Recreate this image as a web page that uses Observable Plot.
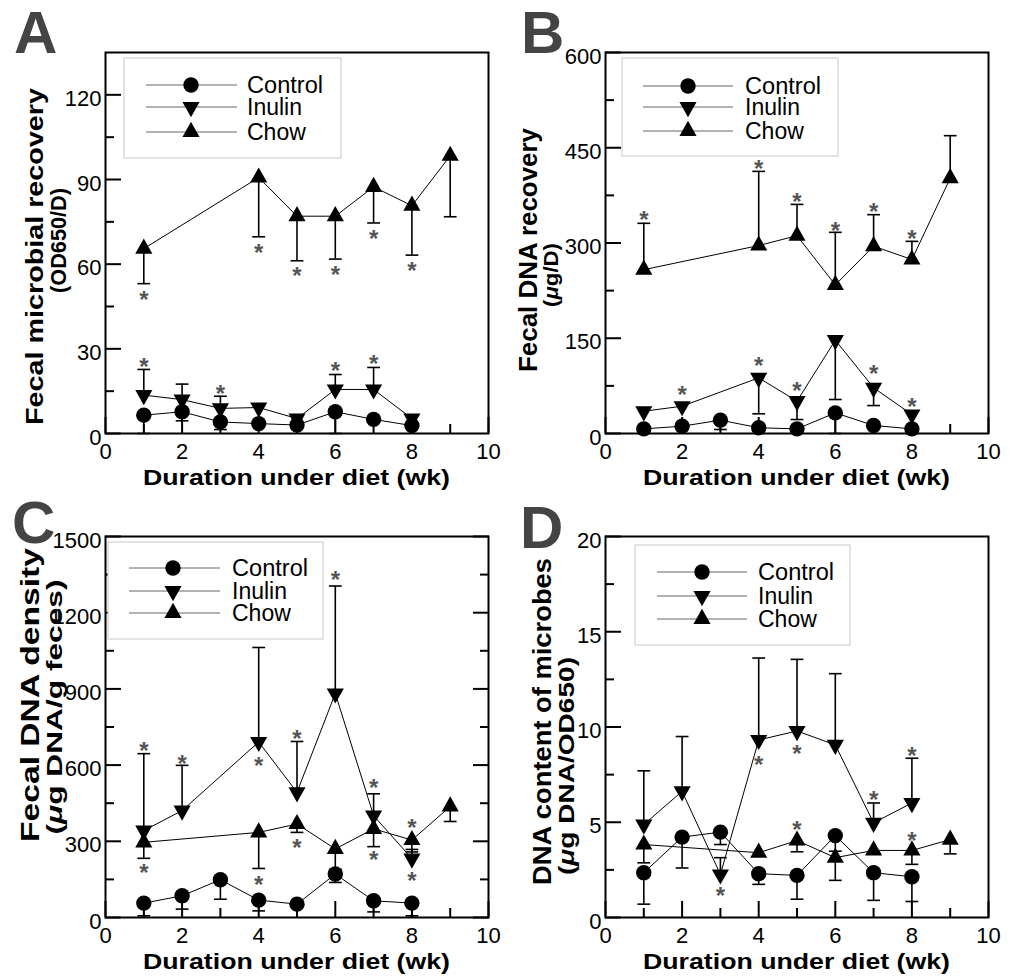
<!DOCTYPE html>
<html><head><meta charset="utf-8">
<script src="https://cdn.jsdelivr.net/npm/d3@7"></script>
<script src="https://cdn.jsdelivr.net/npm/@observablehq/plot@0.6"></script>
<style>
html,body{margin:0;padding:0;background:#fff;}
#root{position:relative;width:1014px;height:980px;overflow:hidden;background:#fff;}
.panel{position:absolute;}
</style></head><body><div id="root"></div>
<script>
// ---------- DATA ----------
const seriesNames = ["Control", "Inulin", "Chow"];
const weeksAll = [1, 2, 3, 4, 5, 6, 7, 8];
const weeksInulinBC = [1, 2, 4, 5, 6, 7, 8];
const weeksChow = [1, 4, 5, 6, 7, 8, 9];
const xMajorTicks = [0, 2, 4, 6, 8, 10];
const xMinorTicks = [1, 3, 5, 7, 9];

// Panel A: Fecal microbial recovery (OD650/D)
const aControl     = [6.5, 7.7, 4.1, 3.5, 3.0, 7.7, 5.0, 2.8];
const aControlErr  = [0, 4.5, 1.4, null, null, 0, null, null];
const aControlStar = [null, null, null, null, null, null, null, null];
const aInulin      = [13.6, 12.0, 8.9, 9.2, 5.3, 15.6, 15.6, 5.3];
const aInulinErr   = [22.7, 17.5, 13.2, null, null, 20.9, 23.4, null];
const aInulinStar  = [25.7, null, 15.9, null, null, 24.1, 26.6, null];
const aChow        = [65.5, 90.7, 77, 77, 87.4, 80.7, 98.4];
const aChowErr     = [53.1, 69.7, 61.2, 61.8, 74.6, 63.2, 76.8];
const aChowStar    = [49.4, 65.9, 57.9, 58.1, 71.1, 59.6, null];
const aYMajor = [0, 30, 60, 90, 120];
const aYMinor = [15, 45, 75, 105];

// Panel B: Fecal DNA recovery (ug/D)
const bControl     = [7.3, 11.5, 21, 9, 7.3, 32.5, 12.6, 7.3];
const bControlErr  = [null, null, 6.3, null, null, 0, null, null];
const bControlStar = [null, null, null, null, null, null, null, null];
const bInulin      = [35, 43, 87.6, 51, 147, 72, 30];
const bInulinErr   = [null, null, 31, 22, 53.5, 44, null];
const bInulinStar  = [null, 69, 116, 75.5, null, 102, 51];
const bChow        = [258, 296, 311.5, 234, 295, 274, 402];
const bChowErr     = [331, 412.8, 360.8, 316.8, 344.6, 302.6, 469];
const bChowStar    = [344.6, 424.8, 373, 328, 357.7, 315.7, null];
const bYMajor = [0, 150, 300, 450, 600];
const bYMinor = [75, 225, 375, 525];

// Panel C: Fecal DNA density (ug DNA/g feces)
const cControl     = [56.6, 85.5, 148.7, 68.4, 52.6, 171, 65.8, 56.6];
const cControlErr  = [6.6, 33, 72, 26, null, 138, 22, 6.6];
const cControlStar = [null, null, null, null, null, null, null, null];
const cInulin      = [342, 421, 691, 493, 882, 401, 232];
const cInulinErr   = [645, 599, 1063, 693, 1305, 487, 268];
const cInulinStar  = [678, 628, 618, 726, 1353, 533, 168];
const cChow        = [296, 335, 368, 270, 349, 305, 437];
const cChowErr     = [233, 193, 335, 190, 279, 258, 378];
const cChowStar    = [197, 151, 296, null, 247, 375, null];
const cYMajor = [0, 300, 600, 900, 1200, 1500];
const cYMinor = [150, 450, 750, 1050, 1350];

// Panel D: DNA content of microbes (ug DNA/OD650)
const dControl     = [2.35, 4.22, 4.48, 2.3, 2.21, 4.3, 2.35, 2.14];
const dControlErr  = [0.7, 2.6, 3.83, 1.74, 0.96, 3.48, 0.9, 0.84];
const dControlStar = [null, null, null, null, null, null, null, null];
const dInulin      = [4.88, 6.62, 2.26, 9.32, 9.79, 9.06, 4.97, 6.01];
const dInulinErr   = [7.7, 9.5, 3.14, 13.62, 13.55, 12.8, 6.01, 8.36];
const dInulinStar  = [null, null, 1.43, 8.28, 8.89, null, 6.48, 8.8];
const dChow        = [3.83, 3.4, 4.04, 3.14, 3.52, 3.52, 4.09];
const dChowErr     = [2.87, null, 3.45, 1.95, null, 2.79, 3.34];
const dChowStar    = [null, null, 4.91, null, null, 4.32, null];
const dYMajor = [0, 5, 10, 15, 20];
const dYMinor = [2.5, 7.5, 12.5, 17.5];

// ---------- SYMBOLS ----------
const circleSym = {draw(ctx, size) { const r = Math.sqrt(size / Math.PI); ctx.moveTo(r, 0); ctx.arc(0, 0, r, 0, 2 * Math.PI); ctx.closePath(); }};
const triUpSym = {draw(ctx, size) { const r = Math.sqrt(size / Math.PI), w = r * 1.07, h = r * 1.9; ctx.moveTo(0, -h * 2 / 3); ctx.lineTo(w, h / 3); ctx.lineTo(-w, h / 3); ctx.closePath(); }};
const triDownSym = {draw(ctx, size) { const r = Math.sqrt(size / Math.PI), w = r * 1.07, h = r * 1.9; ctx.moveTo(0, h * 2 / 3); ctx.lineTo(w, -h / 3); ctx.lineTo(-w, -h / 3); ctx.closePath(); }};
const capSym = {draw(ctx, size) { const r = Math.sqrt(size / Math.PI); ctx.moveTo(-r * 0.8, 0); ctx.lineTo(r * 0.8, 0); }};
const symbols = [circleSym, triDownSym, triUpSym];
const symbolR = [7.7, 8, 8];

const FONT = "'Liberation Sans', Arial, Helvetica, sans-serif";

function rowsOf(name, xs, ys, errs, stars) {
  return xs.map((x, i) => ({series: name, x, y: ys[i], err: errs[i], star: stars[i]}));
}

const panels = [
  {left: 0, top: 0, height: 490, mt: 52, mb: 57, ymax: 135, yMajor: aYMajor, yMinor: aYMinor, right: false,
   data: [rowsOf("Control", weeksAll, aControl, aControlErr, aControlStar),
          rowsOf("Inulin", weeksAll, aInulin, aInulinErr, aInulinStar),
          rowsOf("Chow", weeksChow, aChow, aChowErr, aChowStar)],
   legend: {box: [19, 6, 217, 100], lx: [41, 132], mx: 86, tx: 142, rows: [33, 55, 80]},
   letter: {t: "A", x: 14, y: 53},
   ylab: [{parts: [["Fecal microbial recovery", false]], x: 43, y: 256.5, size: 24, length: 337},
          {parts: [["(OD650/D)", false]], x: 66, y: 240.5, size: 22, length: 105}],
   xlab: {x: 296.5, y: 485}},
  {left: 500, top: 0, height: 490, mt: 52, mb: 57, ymax: 600, yMajor: bYMajor, yMinor: bYMinor, right: false,
   data: [rowsOf("Control", weeksAll, bControl, bControlErr, bControlStar),
          rowsOf("Inulin", weeksInulinBC, bInulin, bInulinErr, bInulinStar),
          rowsOf("Chow", weeksChow, bChow, bChowErr, bChowStar)],
   legend: {box: [17, 6, 216, 98], lx: [38, 128], mx: 83, tx: 140, rows: [34, 55, 79]},
   letter: {t: "B", x: 521, y: 53},
   ylab: [{parts: [["Fecal DNA recovery", false]], x: 537, y: 250, size: 26, length: 244},
          {parts: [["(", false], ["\u03bc", true], ["g/D)", false]], x: 558, y: 275, size: 21, length: 64}],
   xlab: {x: 796.5, y: 485}},
  {left: 0, top: 485, height: 495, mt: 51, mb: 63, ymax: 1500, yMajor: cYMajor, yMinor: cYMinor, right: true,
   data: [rowsOf("Control", weeksAll, cControl, cControlErr, cControlStar),
          rowsOf("Inulin", weeksInulinBC, cInulin, cInulinErr, cInulinStar),
          rowsOf("Chow", weeksChow, cChow, cChowErr, cChowStar)],
   legend: {box: [3, 6, 215, 97], lx: [24, 115], mx: 68, tx: 127, rows: [32, 55, 77]},
   letter: {t: "C", x: 12, y: 543},
   ylab: [{parts: [["Fecal DNA density", false]], x: 39, y: 695, size: 26, length: 294},
          {parts: [["(", false], ["\u03bc", true], ["g DNA/g feces)", false]], x: 62, y: 707, size: 22, length: 255}],
   xlab: {x: 296.5, y: 969}},
  {left: 500, top: 485, height: 495, mt: 51, mb: 63, ymax: 20, yMajor: dYMajor, yMinor: dYMinor, right: false,
   data: [rowsOf("Control", weeksAll, dControl, dControlErr, dControlStar),
          rowsOf("Inulin", weeksAll, dInulin, dInulinErr, dInulinStar),
          rowsOf("Chow", weeksChow, dChow, dChowErr, dChowStar)],
   legend: {box: [30, 9, 215, 100], lx: [52, 142], mx: 97, tx: 153, rows: [36, 60, 83]},
   letter: {t: "D", x: 520, y: 548},
   ylab: [{parts: [["DNA content of microbes", false]], x: 551, y: 721.5, size: 26, length: 327},
          {parts: [["(", false], ["\u03bc", true], ["g DNA/OD650)", false]], x: 574, y: 766, size: 22, length: 218}],
   xlab: {x: 796.5, y: 969}}
];

function addText(svg, off, o) {
  const t = svg.append("text")
    .attr("transform", `translate(${o.x - off[0]},${o.y - off[1]})` + (o.rotate ? ` rotate(${o.rotate})` : ""))
    .attr("text-anchor", o.anchor || "middle")
    .attr("font-family", FONT).attr("font-size", o.size)
    .attr("font-weight", o.weight || "bold")
    .attr("fill", o.fill || "black");
  if (o.length) t.attr("textLength", o.length).attr("lengthAdjust", "spacingAndGlyphs");
  for (const [s, it] of o.parts) {
    const ts = t.append("tspan").text(s);
    if (it) ts.attr("font-style", "italic");
  }
}

const plain = d => String(d);
const root = document.getElementById("root");
for (const p of panels) {
  const all = p.data.flat();
  const withErr = all.filter(d => d.err != null);
  const withStar = all.filter(d => d.star != null);
  const marks = [
    Plot.line(all, {x: "x", y: "y", z: "series", stroke: "black", strokeWidth: 1}),
    Plot.ruleX(withErr, {x: "x", y1: "y", y2: "err", stroke: "black", strokeWidth: 1.6}),
    Plot.dot(withErr, {x: "x", y: "err", symbol: capSym, r: 8, fill: "none", stroke: "black", strokeWidth: 1.6})
  ];
  seriesNames.forEach((name, i) => {
    marks.push(Plot.dot(all.filter(d => d.series === name), {x: "x", y: "y", symbol: symbols[i], r: symbolR[i], fill: "black", stroke: "none"}));
  });
  marks.push(
    Plot.text(withStar, {x: "x", y: "star", text: () => "*", fill: "#555", fontWeight: "bold", fontSize: 24, lineAnchor: "middle", dy: 6}),
    Plot.frame({stroke: "black", strokeWidth: 2}),
    Plot.axisY(p.yMajor, {tickSize: 0, tickPadding: 4, dy: 4, label: null, tickFormat: plain}),
    Plot.axisY(p.yMajor, {tickSize: -16, fill: "none", strokeWidth: 2, label: null}),
    Plot.axisY(p.yMinor, {tickSize: -9, fill: "none", strokeWidth: 2, label: null}),
    Plot.axisX(xMajorTicks, {tickSize: 0, tickPadding: 10, label: null, tickFormat: plain}),
    Plot.axisX(xMajorTicks, {tickSize: -16, fill: "none", strokeWidth: 2, label: null}),
    Plot.axisX(xMinorTicks, {tickSize: -9, fill: "none", strokeWidth: 2, label: null})
  );
  if (p.right) {
    marks.push(
      Plot.axisY(p.yMajor, {anchor: "right", tickSize: -16, fill: "none", strokeWidth: 2, label: null}),
      Plot.axisY(p.yMinor, {anchor: "right", tickSize: -9, fill: "none", strokeWidth: 2, label: null})
    );
  }
  const svgEl = Plot.plot({
    width: 500, height: p.height,
    marginLeft: 105, marginRight: 12, marginTop: p.mt, marginBottom: p.mb,
    x: {domain: [0, 10], label: null},
    y: {domain: [0, p.ymax], label: null},
    style: {fontFamily: FONT, fontSize: "22px", background: "transparent", overflow: "visible", color: "black"},
    marks
  });
  const div = document.createElement("div");
  div.className = "panel";
  div.style.left = p.left + "px";
  div.style.top = p.top + "px";
  div.appendChild(svgEl);
  root.appendChild(div);

  const svg = d3.select(svgEl);
  const off = [p.left, p.top];
  const fx = 105, fy = p.mt, L = p.legend;
  // legend
  const g = svg.append("g");
  g.append("rect").attr("x", fx + L.box[0]).attr("y", fy + L.box[1]).attr("width", L.box[2]).attr("height", L.box[3])
    .attr("fill", "white").attr("stroke", "#c8c8c8").attr("stroke-width", 1);
  seriesNames.forEach((name, i) => {
    const ry = fy + L.rows[i];
    g.append("line").attr("x1", fx + L.lx[0]).attr("x2", fx + L.lx[1]).attr("y1", ry).attr("y2", ry)
      .attr("stroke", "#666").attr("stroke-width", 1);
    g.append("path").attr("d", d3.symbol(symbols[i], symbolR[i] * symbolR[i] * Math.PI)())
      .attr("transform", `translate(${fx + L.mx},${ry})`).attr("fill", "black");
    g.append("text").attr("x", fx + L.tx).attr("y", ry + 8).attr("font-family", FONT)
      .attr("font-size", 23).attr("text-anchor", "start").attr("fill", "black")
      .attr("textLength", 76).attr("lengthAdjust", "spacingAndGlyphs").text(name)
      .attr("textLength", name === "Control" ? 76 : null);
  });
  // panel letter
  addText(svg, off, {parts: [[p.letter.t, false]], x: p.letter.x, y: p.letter.y, size: 60, anchor: "start", fill: "#444"});
  // y labels
  for (const yl of p.ylab) addText(svg, off, {...yl, rotate: -90});
  // x label
  addText(svg, off, {parts: [["Duration under diet (wk)", false]], x: p.xlab.x, y: p.xlab.y, size: 22, length: 307});
}
</script>
</body></html>
